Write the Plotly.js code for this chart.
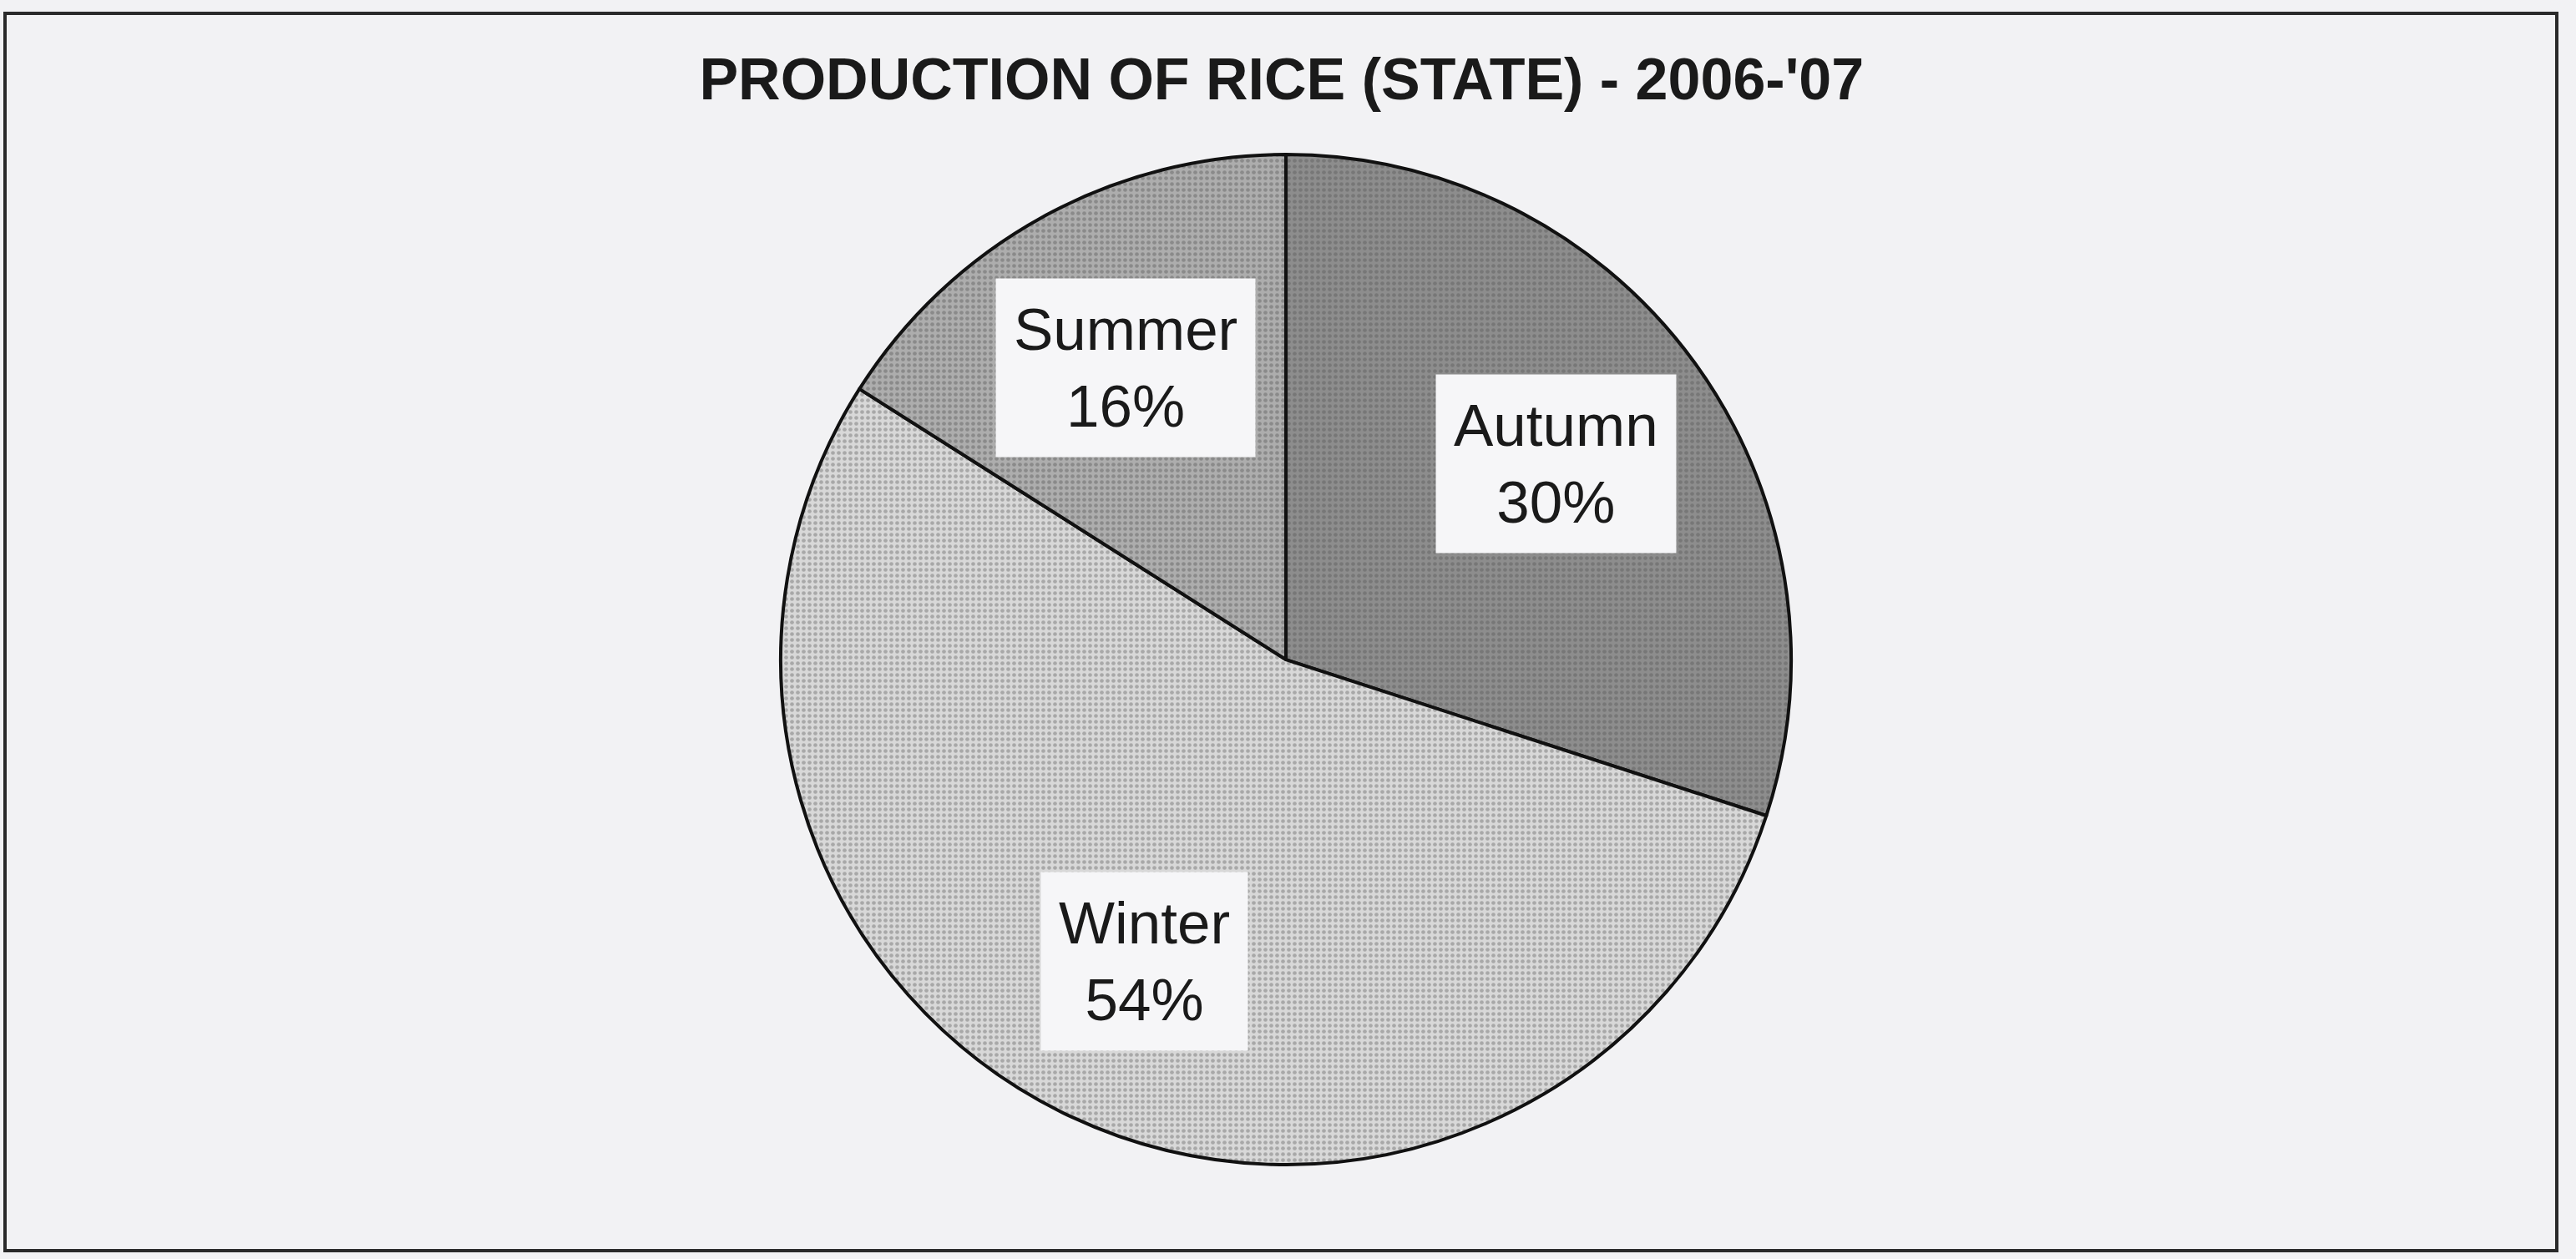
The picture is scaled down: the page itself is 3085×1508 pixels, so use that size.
<!DOCTYPE html>
<html>
<head>
<meta charset="utf-8">
<script src="https://cdn.plot.ly/plotly-3.0.1.min.js"></script>
<style>
  html, body { margin: 0; padding: 0; background: #f2f2f4; }
  #chart { width: 3085px; height: 1508px; }
</style>
</head>
<body>
<div id="chart"></div>
<script>
// Data
const seasons = ["Autumn", "Winter", "Summer"];
const shares = [30, 54, 16];
const sliceColors = ["#8d8d8d", "#d8d8d8", "#adadad"];
const patternFg = ["#777777", "#a8a8a8", "#8a8a8a"];
const chartTitle = "PRODUCTION OF RICE (STATE) - 2006-'07";

const W = 3085, H = 1508;
const domX = [0.3031, 0.6953];
const domY = [0.0749, 0.8773];

// label positions derived from the slice mid-angles (clockwise from 12 o'clock)
const total = shares.reduce((a, b) => a + b, 0);
const cx = (domX[0] + domX[1]) / 2 * W;
const cy = (domY[0] + domY[1]) / 2 * H;
const R = Math.min((domX[1] - domX[0]) * W, (domY[1] - domY[0]) * H) / 2;
let cum = 0;
const annotations = seasons.map((s, i) => {
  const mid = (cum + shares[i] / 2) / total * 2 * Math.PI;
  cum += shares[i];
  const r = 0.66 * R;
  const px = cx + r * Math.sin(mid);
  const py = cy + r * Math.cos(mid);
  return {
    x: px / W, y: py / H, xref: "paper", yref: "paper",
    xanchor: "center", yanchor: "middle",
    text: s + "<br>" + Math.round(shares[i] / total * 100) + "%",
    showarrow: false,
    font: { family: "Liberation Sans, Arial, sans-serif", size: 71, color: "#1a1a1a" },
    bgcolor: "#f6f6f8",
    borderpad: 21,
    align: "center"
  };
});

const trace = {
  type: "pie",
  labels: seasons,
  values: shares,
  sort: false,
  direction: "clockwise",
  rotation: 0,
  textinfo: "none",
  hoverinfo: "label+percent",
  domain: { x: domX, y: domY },
  marker: {
    colors: sliceColors,
    line: { color: "#111111", width: 4 },
    pattern: {
      shape: ".",
      bgcolor: sliceColors,
      fgcolor: patternFg,
      size: 7,
      solidity: 0.35
    }
  },
  showlegend: false
};

const layout = {
  width: W, height: H,
  margin: { l: 0, r: 0, t: 0, b: 0 },
  paper_bgcolor: "#f2f2f4",
  plot_bgcolor: "#f2f2f4",
  showlegend: false,
  title: {
    text: "<b>" + chartTitle + "</b>",
    font: { family: "Liberation Sans, Arial, sans-serif", size: 70, color: "#1a1a1a" },
    x: 0.4975, xanchor: "center",
    y: 1 - 94 / H, yanchor: "middle"
  },
  annotations: annotations,
  shapes: [{
    type: "rect", xref: "paper", yref: "paper",
    x0: 6 / W, x1: 3062 / W, y0: 1 - 1498 / H, y1: 1 - 16 / H,
    line: { color: "#2a2a2a", width: 4 }
  }]
};

Plotly.newPlot("chart", [trace], layout, { displayModeBar: false, staticPlot: true });
</script>
</body>
</html>
